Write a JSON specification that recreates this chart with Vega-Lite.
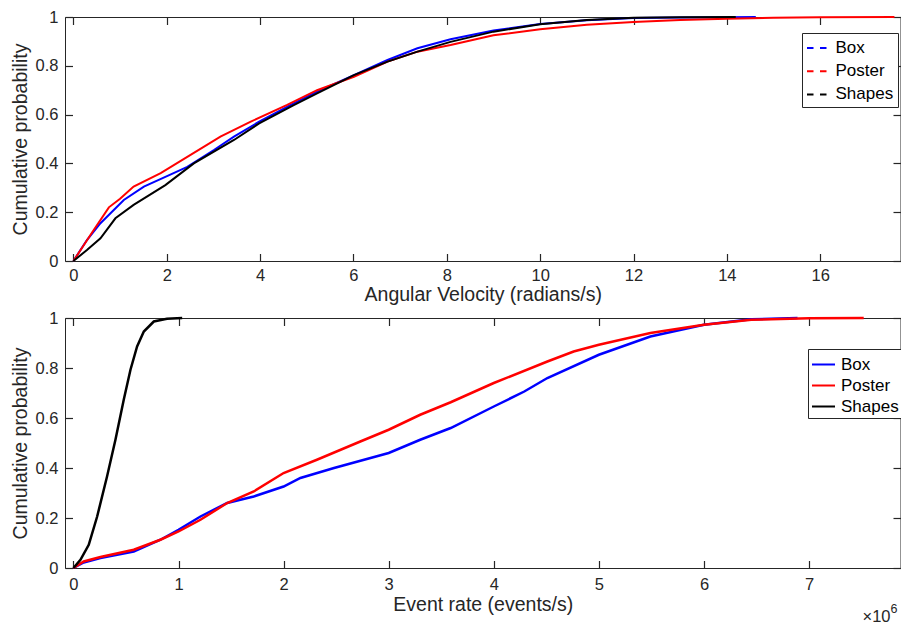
{
  "$schema": "https://vega.github.io/schema/vega-lite/v6.json",
  "background": "white",
  "padding": {"left": 9, "top": 8, "right": 0, "bottom": 0},
  "bounds": "flush",
  "spacing": 57,
  "config": {
    "view": {"stroke": "#262626", "strokeWidth": 1},
    "font": "Liberation Sans",
    "axis": {
      "labelFont": "Liberation Sans",
      "titleFont": "Liberation Sans",
      "labelFontSize": 16.5,
      "titleFontSize": 19.5,
      "titleFontWeight": "normal",
      "labelColor": "#262626",
      "titleColor": "#262626",
      "ticks": true,
      "tickColor": "#262626",
      "tickOpacity": 1,
      "tickWidth": 1.2,
      "domain": false,
      "grid": false,
      "tickSize": 7.5,
      "offset": -7.5
    },
    "legend": {
      "labelFont": "Liberation Sans",
      "labelFontSize": 17,
      "labelColor": "black",
      "strokeColor": "#262626",
      "fillColor": "white",
      "cornerRadius": 0,
      "symbolType": "stroke",
      "symbolStrokeWidth": 2
    }
  },
  "datasets": {
    "top": [
      {"group": "Box", "x": 0, "y": 0},
      {"group": "Box", "x": 0.29, "y": 0.086},
      {"group": "Box", "x": 0.58, "y": 0.155},
      {"group": "Box", "x": 1.08, "y": 0.25},
      {"group": "Box", "x": 1.51, "y": 0.305},
      {"group": "Box", "x": 1.97, "y": 0.345},
      {"group": "Box", "x": 2.44, "y": 0.386},
      {"group": "Box", "x": 3.01, "y": 0.455},
      {"group": "Box", "x": 3.44, "y": 0.51},
      {"group": "Box", "x": 3.98, "y": 0.571},
      {"group": "Box", "x": 4.72, "y": 0.646},
      {"group": "Box", "x": 5.22, "y": 0.694},
      {"group": "Box", "x": 6.01, "y": 0.762},
      {"group": "Box", "x": 6.73, "y": 0.824},
      {"group": "Box", "x": 7.37, "y": 0.872},
      {"group": "Box", "x": 8.08, "y": 0.909},
      {"group": "Box", "x": 9, "y": 0.945},
      {"group": "Box", "x": 10, "y": 0.971},
      {"group": "Box", "x": 11, "y": 0.987},
      {"group": "Box", "x": 12, "y": 0.996},
      {"group": "Box", "x": 13, "y": 0.998},
      {"group": "Box", "x": 14, "y": 0.999},
      {"group": "Box", "x": 14.62, "y": 1},
      {"group": "Poster", "x": 0, "y": 0},
      {"group": "Poster", "x": 0.4, "y": 0.117},
      {"group": "Poster", "x": 0.76, "y": 0.22},
      {"group": "Poster", "x": 1.0, "y": 0.255},
      {"group": "Poster", "x": 1.29, "y": 0.305},
      {"group": "Poster", "x": 1.87, "y": 0.36},
      {"group": "Poster", "x": 2.44, "y": 0.427},
      {"group": "Poster", "x": 3.15, "y": 0.51},
      {"group": "Poster", "x": 3.8, "y": 0.571},
      {"group": "Poster", "x": 4.58, "y": 0.64},
      {"group": "Poster", "x": 5.22, "y": 0.7},
      {"group": "Poster", "x": 6.01, "y": 0.755},
      {"group": "Poster", "x": 6.73, "y": 0.817},
      {"group": "Poster", "x": 7.37, "y": 0.858},
      {"group": "Poster", "x": 8.08, "y": 0.885},
      {"group": "Poster", "x": 9, "y": 0.925},
      {"group": "Poster", "x": 10, "y": 0.95},
      {"group": "Poster", "x": 11, "y": 0.968},
      {"group": "Poster", "x": 12, "y": 0.98},
      {"group": "Poster", "x": 13, "y": 0.988},
      {"group": "Poster", "x": 14, "y": 0.993},
      {"group": "Poster", "x": 15, "y": 0.997},
      {"group": "Poster", "x": 16, "y": 0.999},
      {"group": "Poster", "x": 17.59, "y": 1},
      {"group": "Shapes", "x": 0, "y": 0},
      {"group": "Shapes", "x": 0.29, "y": 0.045},
      {"group": "Shapes", "x": 0.58, "y": 0.093},
      {"group": "Shapes", "x": 0.9, "y": 0.175},
      {"group": "Shapes", "x": 1.29, "y": 0.23},
      {"group": "Shapes", "x": 1.97, "y": 0.311},
      {"group": "Shapes", "x": 2.58, "y": 0.4},
      {"group": "Shapes", "x": 3.44, "y": 0.496},
      {"group": "Shapes", "x": 3.98, "y": 0.564},
      {"group": "Shapes", "x": 4.72, "y": 0.639},
      {"group": "Shapes", "x": 5.22, "y": 0.687},
      {"group": "Shapes", "x": 6.01, "y": 0.762},
      {"group": "Shapes", "x": 6.73, "y": 0.817},
      {"group": "Shapes", "x": 7.37, "y": 0.858},
      {"group": "Shapes", "x": 8.08, "y": 0.898},
      {"group": "Shapes", "x": 9, "y": 0.94},
      {"group": "Shapes", "x": 10, "y": 0.97},
      {"group": "Shapes", "x": 11, "y": 0.988},
      {"group": "Shapes", "x": 12, "y": 0.997},
      {"group": "Shapes", "x": 13, "y": 0.999},
      {"group": "Shapes", "x": 14.19, "y": 1}
    ],
    "bottom": [
      {"group": "Box", "x": 0, "y": 0},
      {"group": "Box", "x": 0.098, "y": 0.022},
      {"group": "Box", "x": 0.257, "y": 0.04},
      {"group": "Box", "x": 0.574, "y": 0.066},
      {"group": "Box", "x": 0.828, "y": 0.113},
      {"group": "Box", "x": 1.0, "y": 0.153},
      {"group": "Box", "x": 1.209, "y": 0.206},
      {"group": "Box", "x": 1.463, "y": 0.26},
      {"group": "Box", "x": 1.716, "y": 0.286},
      {"group": "Box", "x": 2.0, "y": 0.326},
      {"group": "Box", "x": 2.16, "y": 0.36},
      {"group": "Box", "x": 2.48, "y": 0.4},
      {"group": "Box", "x": 3.0, "y": 0.46},
      {"group": "Box", "x": 3.3, "y": 0.513},
      {"group": "Box", "x": 3.59, "y": 0.56},
      {"group": "Box", "x": 4.0, "y": 0.646},
      {"group": "Box", "x": 4.29, "y": 0.706},
      {"group": "Box", "x": 4.51, "y": 0.76},
      {"group": "Box", "x": 5.0, "y": 0.853},
      {"group": "Box", "x": 5.49, "y": 0.926},
      {"group": "Box", "x": 6.0, "y": 0.973},
      {"group": "Box", "x": 6.45, "y": 0.995},
      {"group": "Box", "x": 6.89, "y": 1},
      {"group": "Poster", "x": 0, "y": 0},
      {"group": "Poster", "x": 0.098, "y": 0.026},
      {"group": "Poster", "x": 0.257, "y": 0.044},
      {"group": "Poster", "x": 0.574, "y": 0.073},
      {"group": "Poster", "x": 0.828, "y": 0.113},
      {"group": "Poster", "x": 1.0, "y": 0.146},
      {"group": "Poster", "x": 1.209, "y": 0.193},
      {"group": "Poster", "x": 1.463, "y": 0.26},
      {"group": "Poster", "x": 1.716, "y": 0.306},
      {"group": "Poster", "x": 2.0, "y": 0.38},
      {"group": "Poster", "x": 2.317, "y": 0.433},
      {"group": "Poster", "x": 2.73, "y": 0.506},
      {"group": "Poster", "x": 3.0, "y": 0.553},
      {"group": "Poster", "x": 3.3, "y": 0.613},
      {"group": "Poster", "x": 3.59, "y": 0.663},
      {"group": "Poster", "x": 4.0, "y": 0.74},
      {"group": "Poster", "x": 4.51, "y": 0.826},
      {"group": "Poster", "x": 4.76, "y": 0.866},
      {"group": "Poster", "x": 5.0, "y": 0.893},
      {"group": "Poster", "x": 5.49, "y": 0.94},
      {"group": "Poster", "x": 6.0, "y": 0.973},
      {"group": "Poster", "x": 6.45, "y": 0.993},
      {"group": "Poster", "x": 7.0, "y": 0.999},
      {"group": "Poster", "x": 7.52, "y": 1},
      {"group": "Shapes", "x": 0, "y": 0},
      {"group": "Shapes", "x": 0.067, "y": 0.033},
      {"group": "Shapes", "x": 0.146, "y": 0.093},
      {"group": "Shapes", "x": 0.226, "y": 0.206},
      {"group": "Shapes", "x": 0.32, "y": 0.366},
      {"group": "Shapes", "x": 0.4, "y": 0.513},
      {"group": "Shapes", "x": 0.479, "y": 0.673},
      {"group": "Shapes", "x": 0.543, "y": 0.793},
      {"group": "Shapes", "x": 0.606, "y": 0.886},
      {"group": "Shapes", "x": 0.67, "y": 0.946},
      {"group": "Shapes", "x": 0.765, "y": 0.986},
      {"group": "Shapes", "x": 0.89, "y": 0.997},
      {"group": "Shapes", "x": 1.035, "y": 1}
    ],
    "note": [{"label": "×10", "exp": "6"}]
  },
  "resolve": {"scale": {"color": "independent"}},
  "vconcat": [
    {
      "width": 835.5,
      "height": 244,
      "data": {"name": "top"},
      "resolve": {"axis": {"x": "independent", "y": "independent"}},
      "layer": [
        {
          "mark": {"type": "line", "strokeWidth": 2},
          "encoding": {
            "x": {"field": "x", "type": "quantitative", "scale": {"domain": [-0.18, 17.72], "nice": false, "zero": false},
              "axis": {"orient": "bottom", "values": [0, 2, 4, 6, 8, 10, 12, 14, 16], "title": "Angular Velocity (radians/s)", "labelPadding": 6, "titlePadding": 2, "labelFlush": false}},
            "y": {"field": "y", "type": "quantitative", "scale": {"domain": [0, 1], "nice": false},
              "axis": {"orient": "left", "values": [0, 0.2, 0.4, 0.6, 0.8, 1], "format": "~g", "title": "Cumulative probability", "labelPadding": 7, "titlePadding": 5}},
            "color": {"field": "group", "type": "nominal",
              "scale": {"domain": ["Box", "Poster", "Shapes"], "range": ["#0000ff", "#ff0000", "#000000"]},
              "legend": {"title": null, "orient": "none", "legendX": 737, "legendY": 16, "symbolDash": [6.5, 6.5], "symbolSize": 400, "padding": 4, "rowPadding": 4.2, "labelOffset": 7.5}}
          }
        },
        {
          "mark": {"type": "line", "strokeOpacity": 0},
          "encoding": {
            "x": {"field": "x", "type": "quantitative", "axis": {"orient": "top", "values": [0, 2, 4, 6, 8, 10, 12, 14, 16], "labels": false, "title": null}},
            "y": {"field": "y", "type": "quantitative", "axis": {"orient": "right", "values": [0, 0.2, 0.4, 0.6, 0.8, 1], "labels": false, "title": null}},
            "detail": {"field": "group"}
          }
        }
      ]
    },
    {
      "width": 835.5,
      "height": 250,
      "data": {"name": "bottom"},
      "resolve": {"axis": {"x": "independent", "y": "independent"}},
      "layer": [
        {
          "mark": {"type": "line", "strokeWidth": 2.5},
          "encoding": {
            "x": {"field": "x", "type": "quantitative", "scale": {"domain": [-0.08, 7.87], "nice": false, "zero": false},
              "axis": {"orient": "bottom", "values": [0, 1, 2, 3, 4, 5, 6, 7], "title": "Event rate (events/s)", "labelPadding": 8.5, "titlePadding": 2, "labelFlush": false}},
            "y": {"field": "y", "type": "quantitative", "scale": {"domain": [0, 1], "nice": false},
              "axis": {"orient": "left", "values": [0, 0.2, 0.4, 0.6, 0.8, 1], "format": "~g", "title": "Cumulative probability", "labelPadding": 7, "titlePadding": 5}},
            "color": {"field": "group", "type": "nominal",
              "scale": {"domain": ["Box", "Poster", "Shapes"], "range": ["#0000ff", "#ff0000", "#000000"]},
              "legend": {"title": null, "orient": "none", "legendX": 743, "legendY": 31, "symbolSize": 529, "padding": 3, "rowPadding": 0, "labelOffset": 5}}
          }
        },
        {
          "mark": {"type": "line", "strokeOpacity": 0},
          "encoding": {
            "x": {"field": "x", "type": "quantitative", "axis": {"orient": "top", "values": [0, 1, 2, 3, 4, 5, 6, 7], "labels": false, "title": null}},
            "y": {"field": "y", "type": "quantitative", "axis": {"orient": "right", "values": [0, 0.2, 0.4, 0.6, 0.8, 1], "labels": false, "title": null}},
            "detail": {"field": "group"}
          }
        },
        {
          "data": {"name": "note"},
          "mark": {"type": "text", "align": "right", "baseline": "alphabetic", "dy": 53.5, "dx": -10, "fontSize": 16.5, "fontWeight": "normal", "color": "#262626", "font": "Liberation Sans"},
          "encoding": {
            "x": {"datum": 7.87, "type": "quantitative", "axis": null},
            "y": {"datum": 0, "type": "quantitative", "axis": null},
            "text": {"field": "label"}
          }
        },
        {
          "data": {"name": "note"},
          "mark": {"type": "text", "align": "left", "baseline": "alphabetic", "dy": 44.7, "dx": -10, "fontSize": 12.5, "fontWeight": "normal", "color": "#262626", "font": "Liberation Sans"},
          "encoding": {
            "x": {"datum": 7.87, "type": "quantitative", "axis": null},
            "y": {"datum": 0, "type": "quantitative", "axis": null},
            "text": {"field": "exp"}
          }
        }
      ]
    }
  ]
}
